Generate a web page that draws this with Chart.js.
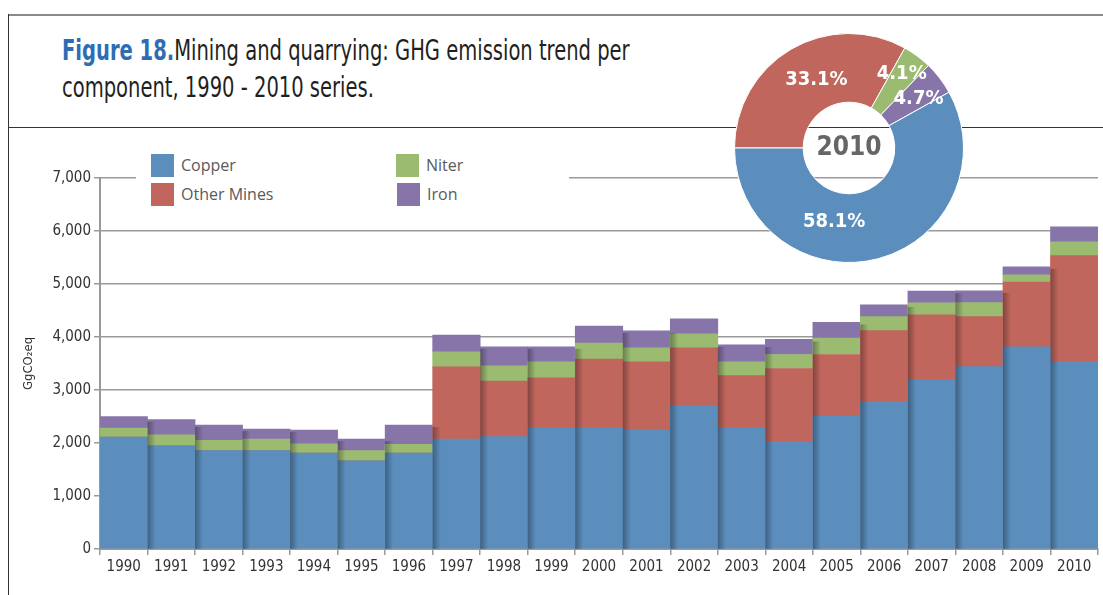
<!DOCTYPE html>
<html>
<head>
<meta charset="utf-8">
<script src="https://cdn.jsdelivr.net/npm/chart.js@4.4.0/dist/chart.umd.min.js"></script>
<style>
  html, body { margin: 0; padding: 0; background: #fff; }
  body { width: 1103px; height: 595px; position: relative; overflow: hidden;
         font-family: "DejaVu Sans Condensed", sans-serif; }
  #frameTop { position: absolute; left: 8px; top: 14px; width: 1095px; border-top: 2px solid #8a8a8a; }
  #frameLeft { position: absolute; left: 8px; top: 14px; height: 581px; border-left: 1.5px solid #333; }
  #titleRule { position: absolute; left: 8px; top: 127px; width: 1095px; border-top: 1.5px solid #333; }
  #title { position: absolute; left: 62px; top: 32px; font-size: 28px; line-height: 37px; color: #231f20;
           white-space: nowrap; transform: scaleX(0.775); transform-origin: left top; }
  #title b { color: #2e6db4; }
  #barWrap { position: absolute; left: 0; top: 140px; width: 1103px; height: 455px; }
  #pieWrap { position: absolute; left: 734px; top: 33px; width: 230px; height: 230px; }
  #legend { position: absolute; left: 136px; top: 149px; width: 433px; height: 62px; background: #fff;
            font-family: "Open Sans", sans-serif; font-size: 16px; color: #5a5a5a; }
  .item { position: absolute; height: 23px; line-height: 23px; }
  .item span { display: inline-block; width: 23px; height: 23px; vertical-align: top; margin-right: 7px; }
</style>
</head>
<body>
<div id="frameTop"></div>
<div id="frameLeft"></div>
<div id="titleRule"></div>
<div id="title"><b>Figure 18.</b>Mining and quarrying: GHG emission trend per<br>component, 1990 - 2010 series.</div>

<div id="barWrap"><canvas id="barChart"></canvas></div>

<div id="legend">
  <div class="item" style="left:15px;top:5px"><span style="background:#5b8ebd"></span>Copper</div>
  <div class="item" style="left:15px;top:34px"><span style="background:#c0665d"></span>Other Mines</div>
  <div class="item" style="left:260px;top:5px"><span style="background:#9bbb71"></span>Niter</div>
  <div class="item" style="left:261px;top:34px"><span style="background:#8775a9"></span>Iron</div>
</div>

<div id="pieWrap"><canvas id="pieChart"></canvas></div>

<script>
const years = ['1990','1991','1992','1993','1994','1995','1996','1997','1998','1999','2000',
               '2001','2002','2003','2004','2005','2006','2007','2008','2009','2010'];
const copper = [2110,1945,1855,1855,1810,1665,1810,2075,2120,2285,2285,2245,2700,2285,2020,2510,2775,3190,3440,3815,3530];
const otherMines = [0,0,0,0,0,0,0,1360,1050,945,1300,1285,1095,985,1385,1160,1345,1230,945,1220,2005];
const niter = [170,210,195,220,175,190,165,285,285,300,300,265,265,260,265,310,265,225,265,140,260];
const iron = [220,285,290,190,260,220,365,315,360,285,320,320,285,320,285,295,220,220,220,150,285];
const yTicks = [0,1000,2000,3000,4000,5000,6000,7000];

const pieLabels = ['Other Mines','Niter','Iron','Copper'];
const pieShares = [33.1, 4.1, 4.7, 58.1];
const pieYear = '2010';

const colors = { copper: '#5b8ebd', other: '#c0665d', niter: '#9bbb71', iron: '#8775a9' };
const axisFont = "'DejaVu Sans Condensed', sans-serif";
// small shifts of the pie labels away from the slice centres, as in the original layout
const labelNudge = [[8, 1], [5, -10], [6, 0], [-35, -4]];

// soft shadow on the left edge of each column, cast by its neighbour
const barShadow = {
    id: 'barShadow',
    afterDatasetsDraw(chart) {
        const ctx = chart.ctx;
        const metas = chart.getSortedVisibleDatasetMetas();
        const base = chart.scales.y.getPixelForValue(0);
        const tops = years.map((y, i) => Math.min(...metas.map(m => m.data[i].y)));
        ctx.save();
        for (let i = 1; i < years.length; i++) {
            const bar = metas[0].data[i];
            const left = bar.x - bar.width / 2;
            const top = Math.max(tops[i - 1], tops[i]);
            const g = ctx.createLinearGradient(left, 0, left + 8, 0);
            g.addColorStop(0, 'rgba(0,0,0,0.32)');
            g.addColorStop(1, 'rgba(0,0,0,0)');
            ctx.fillStyle = g;
            ctx.fillRect(left, top + 2, 8, base - top - 2);
        }
        ctx.restore();
    }
};

new Chart(document.getElementById('barChart'), {
    type: 'bar',
    data: {
        labels: years,
        datasets: [
            { label: 'Copper', data: copper, backgroundColor: colors.copper },
            { label: 'Other Mines', data: otherMines, backgroundColor: colors.other },
            { label: 'Niter', data: niter, backgroundColor: colors.niter },
            { label: 'Iron', data: iron, backgroundColor: colors.iron }
        ]
    },
    options: {
        responsive: true,
        maintainAspectRatio: false,
        animation: false,
        datasets: { bar: { barPercentage: 1, categoryPercentage: 1, borderWidth: 0 } },
        layout: { padding: { top: 38, right: 5, bottom: 16, left: 0 } },
        scales: {
            x: {
                stacked: true,
                grid: { offset: true, drawOnChartArea: false, tickLength: 6, color: '#999', lineWidth: 1.5 },
                border: { color: '#999', width: 2 },
                ticks: { color: '#333', padding: 3, font: { family: axisFont, size: 15 } }
            },
            y: {
                stacked: true,
                min: 0,
                max: 7000,
                z: 1,
                afterBuildTicks: s => { s.ticks = yTicks.map(v => ({ value: v })); },
                afterFit: s => { s.width = 100; },
                grid: { color: '#9a9a9a', lineWidth: 1.5, tickLength: 6 },
                border: { color: '#999', width: 2 },
                ticks: {
                    color: '#333', padding: 3, font: { family: axisFont, size: 15 },
                    callback: v => v.toLocaleString('en-US')
                },
                title: { display: true, text: 'GgCO₂eq', color: '#333',
                         font: { family: axisFont, size: 13 }, padding: { top: 21, bottom: 0 } }
            }
        },
        plugins: { legend: { display: false }, tooltip: { enabled: false } }
    },
    plugins: [barShadow]
});

// percentage labels and the year in the hole
const pieText = {
    id: 'pieText',
    afterDatasetsDraw(chart) {
        const ctx = chart.ctx;
        const arcs = chart.getDatasetMeta(0).data;
        ctx.save();
        ctx.textAlign = 'center';
        ctx.textBaseline = 'middle';
        ctx.fillStyle = '#fff';
        ctx.font = "bold 20px " + axisFont;
        arcs.forEach((arc, i) => {
            const p = arc.tooltipPosition();
            ctx.fillText(pieShares[i].toFixed(1) + '%', p.x + labelNudge[i][0], p.y + labelNudge[i][1]);
        });
        const c = arcs[0];
        ctx.fillStyle = '#666';
        ctx.font = "bold 26px " + axisFont;
        ctx.fillText(pieYear, c.x, c.y);
        ctx.restore();
    }
};

new Chart(document.getElementById('pieChart'), {
    type: 'doughnut',
    data: {
        labels: pieLabels,
        datasets: [{
            data: pieShares,
            backgroundColor: [colors.other, colors.niter, colors.iron, colors.copper],
            borderColor: '#fff',
            borderWidth: 1
        }]
    },
    options: {
        responsive: true,
        maintainAspectRatio: false,
        animation: false,
        rotation: -90,
        cutout: '40%',
        plugins: { legend: { display: false }, tooltip: { enabled: false } }
    },
    plugins: [pieText]
});
</script>
</body>
</html>
